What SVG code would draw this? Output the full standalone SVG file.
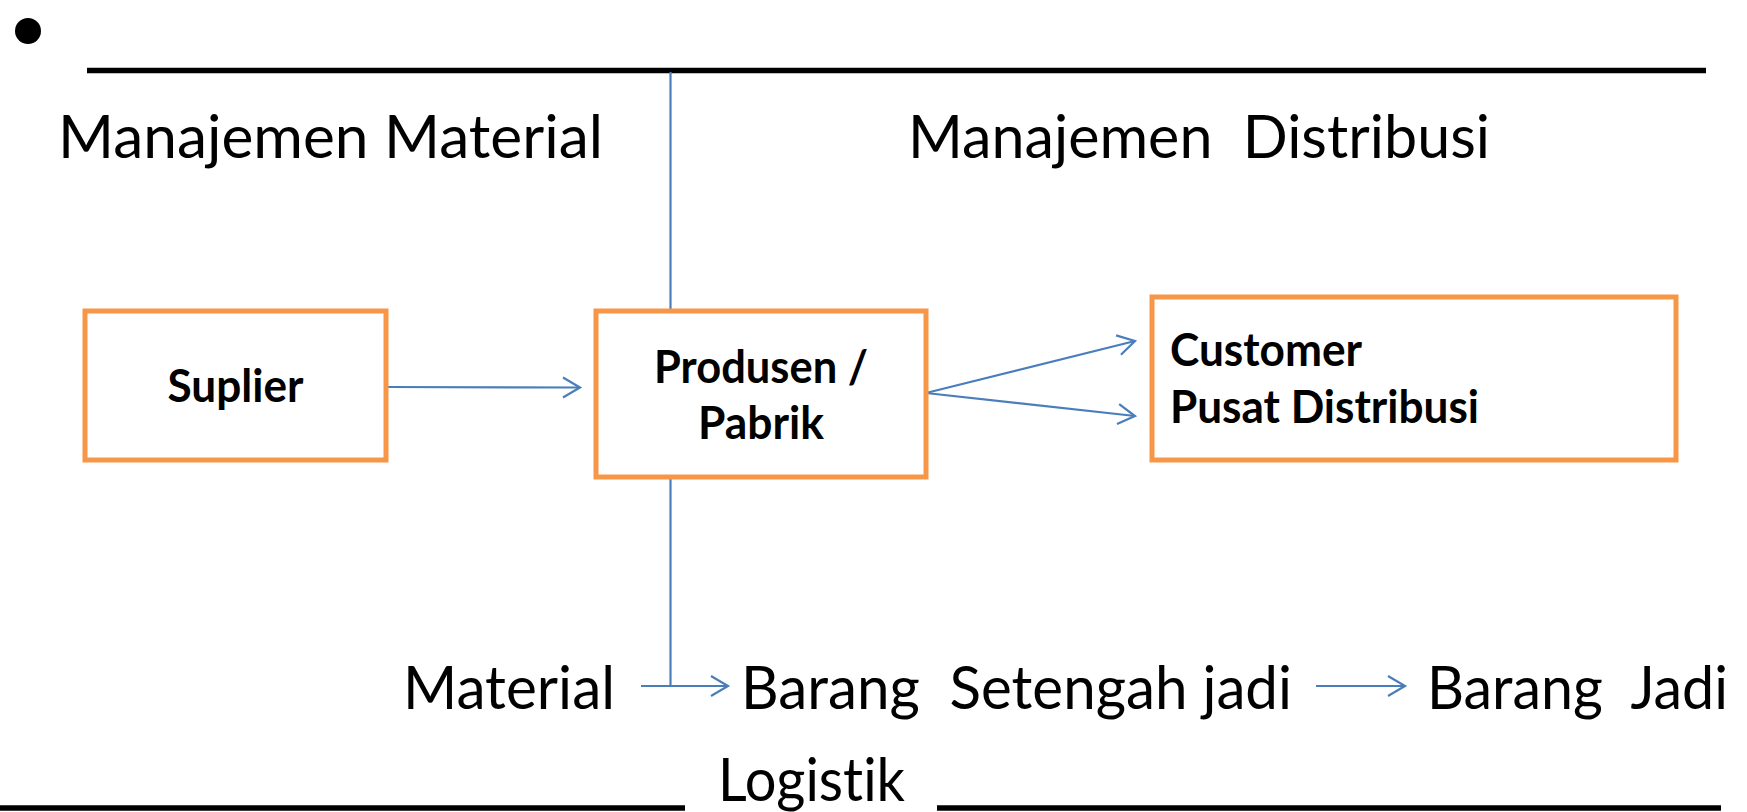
<svg xmlns="http://www.w3.org/2000/svg" width="1747" height="812" viewBox="0 0 1747 812">
<style>
.t{font-family:Lato,"Open Sans","Liberation Sans",sans-serif;font-size:60px;fill:#000;white-space:pre;font-variant-ligatures:none}
.b{font-family:Lato,"Open Sans","Liberation Sans",sans-serif;font-size:45px;font-weight:bold;fill:#000;white-space:pre;font-variant-ligatures:none}
.box{fill:#fff;stroke:#F79646;stroke-width:5}
.rule{stroke:#000;stroke-width:5.5;stroke-linecap:butt}
.c{stroke:#4A7EBB;stroke-width:2.2;fill:none}
</style>
<defs>
<marker id="arr" markerUnits="userSpaceOnUse" markerWidth="40" markerHeight="40" viewBox="-20 -20 40 40" refX="0" refY="0" orient="auto">
<path d="M-17,-10 L0,0 L-17,10" fill="none" stroke="#4A7EBB" stroke-width="2.2"/>
</marker>
</defs>
<rect width="1747" height="812" fill="#fff"/>
<g id="decor">
<circle cx="28" cy="31" r="13"/>
<line class="rule" x1="87" y1="70.5" x2="1706" y2="70.5"/>
<line class="rule" x1="0" y1="808" x2="685" y2="808"/>
<line class="rule" x1="937" y1="808" x2="1721" y2="808"/>
</g>
<g id="labels">
<text class="t" x="58" y="158" textLength="545" lengthAdjust="spacingAndGlyphs">Manajemen Material</text>
<text class="t" x="908" y="158" textLength="582" lengthAdjust="spacingAndGlyphs">Manajemen  Distribusi</text>
<text class="t" x="403" y="709" textLength="212" lengthAdjust="spacingAndGlyphs">Material</text>
<text class="t" x="741" y="709" textLength="551" lengthAdjust="spacingAndGlyphs">Barang  Setengah jadi</text>
<text class="t" x="1427" y="709" textLength="301" lengthAdjust="spacingAndGlyphs">Barang  Jadi</text>
<text class="t" x="718" y="801" textLength="187" lengthAdjust="spacingAndGlyphs">Logistik</text>
</g>
<g id="connectors">
<line class="c" x1="670.5" y1="72" x2="670.5" y2="309"/>
<line class="c" x1="670.5" y1="479" x2="670.5" y2="686"/>
<line class="c" x1="641" y1="686" x2="728" y2="686" marker-end="url(#arr)"/>
<line class="c" x1="386" y1="387" x2="580" y2="387.5" marker-end="url(#arr)"/>
<line class="c" x1="926" y1="393" x2="1135" y2="341" marker-end="url(#arr)"/>
<line class="c" x1="926" y1="393" x2="1135" y2="416" marker-end="url(#arr)"/>
<line class="c" x1="1316" y1="686" x2="1405" y2="686" marker-end="url(#arr)"/>
</g>
<g id="suplier">
<rect class="box" x="85" y="311" width="301" height="149"/>
<text class="b" x="235.5" y="402" text-anchor="middle" textLength="136" lengthAdjust="spacingAndGlyphs">Suplier</text>
</g>
<g id="produsen">
<rect class="box" x="596" y="311" width="330" height="166"/>
<text class="b" x="761" y="383" text-anchor="middle" textLength="214" lengthAdjust="spacingAndGlyphs">Produsen /</text>
<text class="b" x="761" y="439" text-anchor="middle" textLength="126" lengthAdjust="spacingAndGlyphs">Pabrik</text>
</g>
<g id="customer">
<rect class="box" x="1152" y="297" width="524" height="163"/>
<text class="b" x="1170" y="366" textLength="192" lengthAdjust="spacingAndGlyphs">Customer</text>
<text class="b" x="1170" y="423" textLength="309" lengthAdjust="spacingAndGlyphs">Pusat Distribusi</text>
</g>
</svg>
